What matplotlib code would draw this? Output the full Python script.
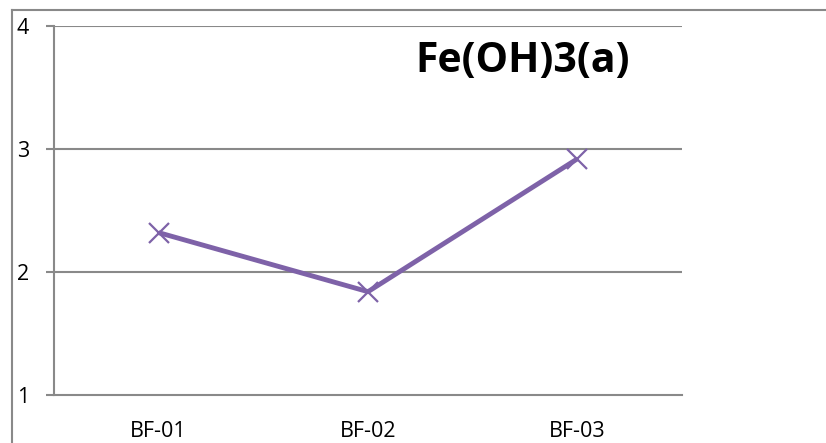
import matplotlib.pyplot as plt
from matplotlib.lines import Line2D

# data
categories = ["BF-01", "BF-02", "BF-03"]
values = [2.32, 1.84, 2.92]
y_ticks = [1, 2, 3, 4]
title = "Fe(OH)3(a)"

W, H = 826, 443
fig = plt.figure(figsize=(W / 100, H / 100), dpi=100)
fig.patch.set_facecolor("white")

# outer chart-area frame (only left and top visible)
grey = "#898989"
fig.add_artist(Line2D([12 / W, 12 / W], [0, 1 - 9.5 / H], transform=fig.transFigure,
                      color=grey, lw=1.5))
fig.add_artist(Line2D([12 / W, 1], [1 - 9.5 / H, 1 - 9.5 / H], transform=fig.transFigure,
                      color=grey, lw=1.5))

left, right, top, bottom = 54, 682, 26, 395
ax = fig.add_axes([left / W, (H - bottom) / H, (right - left) / W, (bottom - top) / H])

x = list(range(len(categories)))
ax.plot(x, values, color="#7E62A8", lw=3.5, marker="x", markersize=14,
        markeredgewidth=1.6, solid_capstyle="butt", zorder=3)

ax.set_xlim(-0.5, len(categories) - 0.5)
ax.set_ylim(1, 4)
ax.set_yticks(y_ticks)
ax.set_xticks(x)
ax.set_xticklabels(categories)

for y in y_ticks[1:]:
    ax.axhline(y, color=grey, lw=1.5, zorder=1)

for s in ["top", "right"]:
    ax.spines[s].set_visible(False)
for s in ["left", "bottom"]:
    ax.spines[s].set_color(grey)
    ax.spines[s].set_linewidth(1.5)

ax.tick_params(axis="y", length=6, width=1.5, color=grey, pad=12, labelsize=15.5)
ax.tick_params(axis="x", length=0, pad=19, labelsize=15.5)
for lab in ax.get_yticklabels() + ax.get_xticklabels():
    lab.set_family("Open Sans")

ax.text(0.917, 0.875, title, transform=ax.transAxes, ha="right", va="baseline",
        fontsize=29.5, fontweight="bold", family="Open Sans")

fig.savefig("out.png", dpi=100)
